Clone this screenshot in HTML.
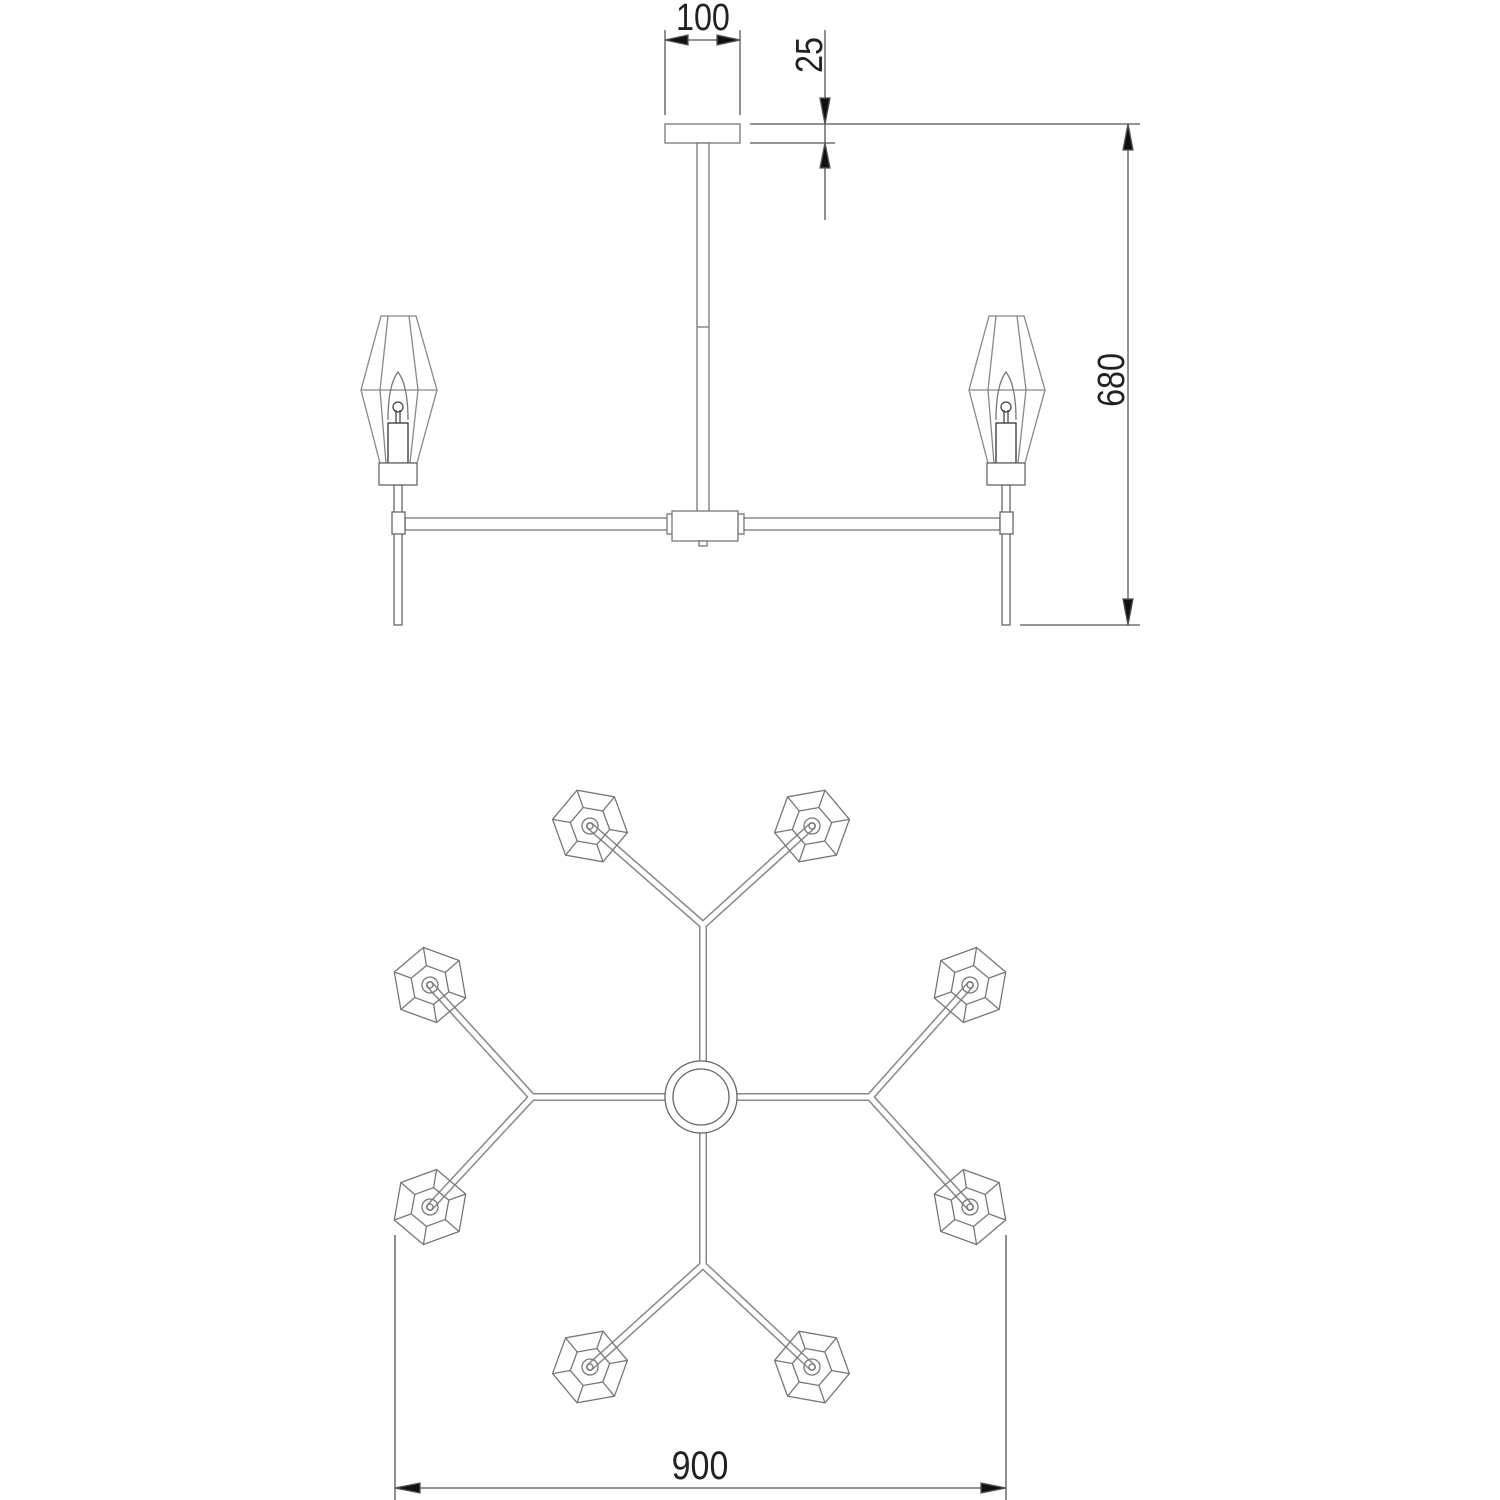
<!DOCTYPE html>
<html><head><style>body{margin:0;background:#fff}svg{display:block}</style></head><body>
<svg width="1500" height="1500" viewBox="0 0 1500 1500" xmlns="http://www.w3.org/2000/svg" font-family="Liberation Sans, sans-serif">
<defs>
<g id="hex" fill="none" stroke="#777" stroke-width="1.3">
<polygon points="38,0 19,33 -19,33 -38,0 -19,-33 19,-33"/>
<polygon points="20,0 10,17 -10,17 -20,0 -10,-17 10,-17"/>
<line x1="38" y1="0" x2="20" y2="0"/><line x1="19" y1="33" x2="10" y2="17"/><line x1="-19" y1="33" x2="-10" y2="17"/>
<line x1="-38" y1="0" x2="-20" y2="0"/><line x1="-19" y1="-33" x2="-10" y2="-17"/><line x1="19" y1="-33" x2="10" y2="-17"/>
<circle r="8"/><circle r="3"/>
</g>
<g id="lamp" fill="#fff" stroke="#666" stroke-width="1.3">
<rect x="-4" y="485" width="8" height="140"/>
<rect x="-6" y="512" width="13" height="22"/>
<polygon points="-17,316 18,316 39,390 19,463 -18,463 -37,390" fill="none" stroke="#888"/>
<line x1="-37" y1="390" x2="39" y2="390" stroke="#888"/>
<path d="M-10,316 L-18,390 L-12,463 M11,316 L20,390 L12,463" fill="none" stroke="#888"/>
<path d="M-10,420 Q-10,385 0,372 Q10,385 10,420" fill="none" stroke="#777"/>
<rect x="-10" y="423" width="20" height="40" fill="#fff" stroke="#333"/>
<circle cx="0" cy="407" r="5" fill="none" stroke="#444"/>
<line x1="-2" y1="410" x2="-2" y2="423" stroke="#444"/><line x1="2" y1="410" x2="2" y2="423" stroke="#444"/>
<rect x="-19" y="463" width="38" height="22"/>
</g>
</defs>
<g fill="none" stroke="#777" stroke-width="1.3">
<!-- top view -->
<rect x="665" y="124" width="75" height="19" fill="#fff"/>
<rect x="697" y="143" width="12" height="370" fill="#fff"/>
<line x1="697" y1="327" x2="709" y2="327"/>
<rect x="405" y="518" width="595" height="12" fill="#fff"/>
<rect x="667" y="514" width="6" height="20" fill="#fff"/>
<rect x="738" y="514" width="6" height="20" fill="#fff"/>
<rect x="672" y="511" width="66" height="30" fill="#fff"/>
<rect x="699" y="541" width="8" height="5" fill="#fff"/>
</g>
<use href="#lamp" x="398"/>
<use href="#lamp" x="1006"/>
<!-- dimensions top -->
<g stroke="#555" stroke-width="1.3" fill="#111">
<line x1="665" y1="30" x2="665" y2="115"/><line x1="740" y1="30" x2="740" y2="115"/>
<line x1="665" y1="40" x2="740" y2="40"/>
<polygon points="665,40 688,35 688,45"/><polygon points="740,40 717,35 717,45"/>
<line x1="825" y1="30" x2="825" y2="220"/>
<polygon points="825,124 820,98 830,98"/><polygon points="825,143 820,168 830,168"/>
<line x1="750" y1="124" x2="1140" y2="124"/><line x1="750" y1="143" x2="835" y2="143"/>
<line x1="1128" y1="124" x2="1128" y2="625"/>
<polygon points="1128,124 1123,150 1133,150"/><polygon points="1128,625 1123,599 1133,599"/>
<line x1="1020" y1="625" x2="1140" y2="625"/>
</g>
<text x="703" y="30" font-size="38" text-anchor="middle" fill="#222" transform="scale(0.85,1) translate(124,0)">100</text>
<text font-size="38" text-anchor="middle" fill="#222" transform="translate(822,55) rotate(-90) scale(0.85,1)">25</text>
<text font-size="38" text-anchor="middle" fill="#222" transform="translate(1124,380) rotate(-90) scale(0.85,1)">680</text>
<!-- plan view arms -->
<g fill="none" stroke-linecap="round">
<g stroke="#888" stroke-width="8">
<path d="M703,1061 L703,925 L590,826 M703,925 L812,826"/>
<path d="M667,1097 L532,1097 L430,985 M532,1097 L430,1207"/>
<path d="M739,1097 L870,1097 L970,985 M870,1097 L970,1207"/>
<path d="M703,1133 L703,1265 L590,1367 M703,1265 L812,1367"/>
</g>
<g stroke="#fff" stroke-width="5">
<path d="M703,1061 L703,925 L590,826 M703,925 L812,826"/>
<path d="M667,1097 L532,1097 L430,985 M532,1097 L430,1207"/>
<path d="M739,1097 L870,1097 L970,985 M870,1097 L970,1207"/>
<path d="M703,1133 L703,1265 L590,1367 M703,1265 L812,1367"/>
</g>
</g>
<g fill="#fff" stroke="#666" stroke-width="1.3">
<circle cx="701" cy="1097" r="36"/>
<circle cx="701" cy="1097" r="28"/>
</g>
<use href="#hex" x="590" y="826" transform="rotate(10 590 826)"/>
<use href="#hex" x="812" y="826" transform="rotate(-10 812 826)"/>
<use href="#hex" x="430" y="985" transform="rotate(20 430 985)"/>
<use href="#hex" x="970" y="985" transform="rotate(-20 970 985)"/>
<use href="#hex" x="430" y="1207" transform="rotate(-20 430 1207)"/>
<use href="#hex" x="970" y="1207" transform="rotate(20 970 1207)"/>
<use href="#hex" x="590" y="1367" transform="rotate(-10 590 1367)"/>
<use href="#hex" x="812" y="1367" transform="rotate(10 812 1367)"/>
<!-- 900 dim -->
<g stroke="#555" stroke-width="1.3" fill="#111">
<line x1="395" y1="1235" x2="395" y2="1500"/><line x1="1006" y1="1235" x2="1006" y2="1500"/>
<line x1="395" y1="1488" x2="1006" y2="1488"/>
<polygon points="395,1488 420,1483 420,1493"/><polygon points="1006,1488 981,1483 981,1493"/>
</g>
<text font-size="40" text-anchor="middle" fill="#222" transform="translate(700,1479) scale(0.85,1)">900</text>
</svg>
</body></html>
